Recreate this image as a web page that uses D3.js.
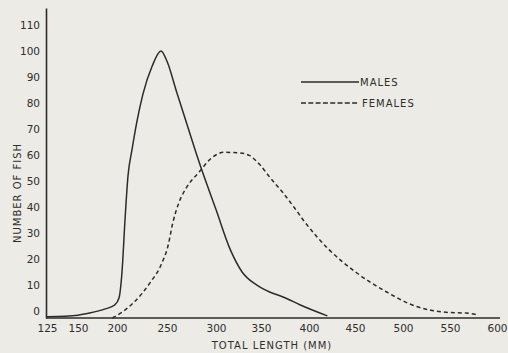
<!DOCTYPE html>
<html>
<head>
<meta charset="utf-8">
<script src="https://cdn.jsdelivr.net/npm/d3@7/dist/d3.min.js"></script>
<style>
  html, body { margin: 0; padding: 0; background: #ecebe5; }
  svg { display: block; }
  text { font-family: 'DejaVu Sans', sans-serif; fill: #2e2e2e; }
</style>
</head>
<body>
<div id="chart"></div>
<script>
// Length (mm) / number of fish
const malesLength = [125, 150, 165, 185, 197, 202, 205, 208, 211, 215, 220, 226, 235, 244, 250, 260, 271, 283, 300, 316, 329, 345, 359, 373, 391, 420];
const malesCount  = [-2.2, -1.6, -0.8, 0.8, 2.3, 5, 15, 35, 52, 62, 73, 83.5, 94, 100, 96, 84, 71, 57, 39, 23.5, 15, 10, 7.3, 5.4, 2.3, -1.9];

const femalesLength = [194, 205, 216, 233, 245, 251, 256, 262, 270, 283, 296, 309, 326, 337, 348, 359, 373, 385, 394, 422, 452, 483, 510, 528, 550, 567, 580];
const femalesCount  = [-2.7, -0.5, 3, 10.8, 18.5, 25, 34, 41.5, 47.5, 53.5, 59, 61, 60.8, 59.8, 56.5, 51.5, 45.4, 39.6, 35, 23.5, 14.6, 7.3, 2.3, 0.4, -0.6, -0.8, -1.5];

const xTicks = [125, 150, 200, 250, 300, 350, 400, 450, 500, 550, 600];
const yTicks = [0, 10, 20, 30, 40, 50, 60, 70, 80, 90, 100, 110];
const seriesNames = ['MALES', 'FEMALES'];

const width = 508;
const height = 353;
const ink = '#2b2b2b';

const svg = d3.select('#chart')
  .append('svg')
  .attr('width', width)
  .attr('height', height);

// The hand-lettered axis is not evenly spaced, so map each tick label to where it sits
const x = d3.scaleLinear()
  .domain(xTicks)
  .range([47, 78, 117, 167, 216, 261, 309, 355, 403, 450, 497]);

const y = d3.scaleLinear()
  .domain([-2.7, 116.5])
  .range([318, 8]);

// Axes
const xAxis = svg.append('g')
  .attr('transform', `translate(0,${y(-2.7)})`)
  .call(d3.axisBottom(x).tickValues(xTicks).tickSize(0).tickPadding(7));
xAxis.select('.domain').attr('stroke', ink).attr('stroke-width', 1.6).attr('d', 'M46,0H500');
xAxis.selectAll('text').attr('font-size', '10.5px').attr('fill', ink)
  .style('font-family', "'DejaVu Sans', sans-serif");

const yAxis = svg.append('g')
  .attr('transform', 'translate(46,0)')
  .call(d3.axisLeft(y).tickValues(yTicks).tickSize(0).tickPadding(6));
yAxis.select('.domain').attr('stroke', ink).attr('stroke-width', 1.6);
yAxis.selectAll('text').attr('font-size', '10.5px').attr('fill', ink)
  .style('font-family', "'DejaVu Sans', sans-serif");

// Axis titles
svg.append('text')
  .attr('x', 272)
  .attr('y', 349)
  .attr('text-anchor', 'middle')
  .attr('font-size', '10px')
  .attr('letter-spacing', '1px')
  .text('TOTAL LENGTH (MM)');

svg.append('text')
  .attr('transform', 'translate(21,193) rotate(-90)')
  .attr('text-anchor', 'middle')
  .attr('font-size', '10px')
  .attr('letter-spacing', '1px')
  .text('NUMBER OF FISH');

// Curves
const line = d3.line()
  .x((d) => x(d[0]))
  .y((d) => y(d[1]))
  .curve(d3.curveMonotoneX);

const males = malesLength.map((v, i) => [v, malesCount[i]]);
const females = femalesLength.map((v, i) => [v, femalesCount[i]]);

svg.append('path')
  .datum(males)
  .attr('fill', 'none')
  .attr('stroke', ink)
  .attr('stroke-width', 1.5)
  .attr('d', line);

svg.append('path')
  .datum(females)
  .attr('fill', 'none')
  .attr('stroke', ink)
  .attr('stroke-width', 1.5)
  .attr('stroke-dasharray', '4,3')
  .attr('d', line);

// Legend
const legend = svg.append('g').attr('transform', 'translate(301,82)');
seriesNames.forEach((name, i) => {
  const row = legend.append('g').attr('transform', `translate(0,${i * 21})`);
  row.append('line')
    .attr('x1', 0)
    .attr('x2', 58)
    .attr('stroke', ink)
    .attr('stroke-width', 1.3)
    .attr('stroke-dasharray', i === 1 ? '5,2.3' : null);
  row.append('text')
    .attr('x', i === 1 ? 61 : 59)
    .attr('y', 4)
    .attr('font-size', '10px')
    .attr('letter-spacing', '1px')
    .text(name);
});
</script>
</body>
</html>
